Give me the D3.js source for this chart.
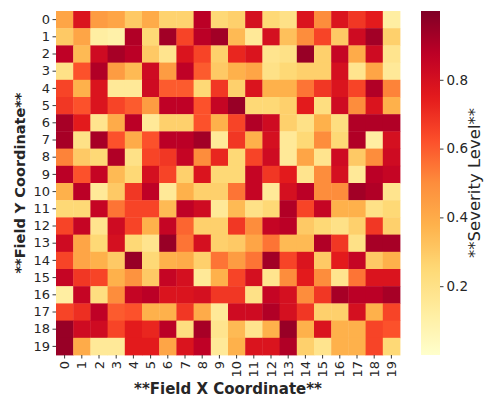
<!DOCTYPE html>
<html>
<head>
<meta charset="utf-8">
<script src="https://cdn.jsdelivr.net/npm/d3@7"></script>
<style>
  html, body { margin: 0; padding: 0; background: #fff; }
  svg { display: block; font-family: "DejaVu Sans", sans-serif; }
</style>
</head>
<body>
<div id="chart"></div>
<script>
// field coordinates
const xLabels = d3.range(20).map(String);
const yLabels = d3.range(20).map(String);

// severity per row (y) and column (x)
const severity = [
  [0.42,0.78,0.45,0.42,0.30,0.40,0.27,0.27,0.88,0.25,0.28,0.80,0.25,0.20,0.78,0.50,0.78,0.68,0.75,0.12],
  [0.30,0.42,0.12,0.10,0.90,0.25,0.93,0.65,0.88,0.93,0.35,0.15,0.80,0.33,0.50,0.65,0.30,0.82,0.93,0.28],
  [0.87,0.35,0.82,0.92,0.88,0.30,0.18,0.78,0.65,0.28,0.72,0.78,0.18,0.20,0.95,0.28,0.85,0.40,0.82,0.18],
  [0.20,0.62,0.90,0.45,0.35,0.82,0.45,0.87,0.60,0.30,0.38,0.42,0.20,0.25,0.28,0.28,0.80,0.18,0.42,0.15],
  [0.65,0.38,0.78,0.15,0.15,0.82,0.60,0.60,0.25,0.68,0.28,0.78,0.38,0.38,0.55,0.68,0.78,0.65,0.90,0.52],
  [0.68,0.62,0.78,0.65,0.60,0.45,0.87,0.87,0.62,0.85,0.95,0.25,0.25,0.28,0.75,0.22,0.82,0.50,0.78,0.38],
  [0.92,0.75,0.18,0.40,0.88,0.15,0.28,0.28,0.62,0.38,0.65,0.90,0.82,0.28,0.20,0.38,0.22,0.90,0.90,0.90],
  [0.92,0.20,0.92,0.62,0.40,0.62,0.88,0.88,0.93,0.15,0.68,0.38,0.80,0.15,0.25,0.50,0.25,0.90,0.12,0.80],
  [0.52,0.30,0.25,0.90,0.20,0.65,0.68,0.85,0.50,0.72,0.25,0.65,0.82,0.15,0.42,0.18,0.82,0.30,0.50,0.82],
  [0.88,0.62,0.85,0.35,0.25,0.80,0.65,0.28,0.78,0.25,0.25,0.85,0.68,0.75,0.18,0.50,0.80,0.15,0.88,0.85],
  [0.38,0.88,0.15,0.30,0.68,0.87,0.15,0.38,0.28,0.28,0.55,0.85,0.15,0.80,0.88,0.50,0.50,0.93,0.90,0.18],
  [0.25,0.25,0.85,0.55,0.65,0.65,0.35,0.87,0.82,0.15,0.35,0.20,0.25,0.90,0.65,0.85,0.38,0.38,0.20,0.25],
  [0.65,0.85,0.18,0.82,0.65,0.38,0.85,0.58,0.28,0.28,0.68,0.50,0.85,0.88,0.30,0.25,0.20,0.28,0.68,0.28],
  [0.82,0.42,0.25,0.80,0.25,0.18,0.95,0.55,0.80,0.28,0.30,0.42,0.55,0.35,0.35,0.90,0.68,0.20,0.92,0.92],
  [0.65,0.42,0.38,0.30,0.95,0.25,0.38,0.40,0.28,0.55,0.45,0.55,0.93,0.65,0.78,0.30,0.75,0.85,0.30,0.38],
  [0.85,0.68,0.65,0.38,0.48,0.30,0.85,0.80,0.15,0.38,0.65,0.80,0.18,0.50,0.75,0.50,0.18,0.55,0.78,0.78],
  [0.12,0.85,0.22,0.50,0.85,0.88,0.78,0.78,0.80,0.68,0.68,0.20,0.85,0.80,0.50,0.68,0.92,0.88,0.88,0.92],
  [0.65,0.70,0.87,0.60,0.62,0.38,0.38,0.68,0.40,0.15,0.82,0.82,0.90,0.80,0.68,0.28,0.28,0.80,0.38,0.65],
  [0.95,0.82,0.82,0.65,0.75,0.72,0.88,0.22,0.92,0.18,0.35,0.18,0.38,0.95,0.38,0.78,0.38,0.38,0.65,0.62],
  [0.95,0.40,0.15,0.15,0.75,0.75,0.42,0.78,0.87,0.15,0.38,0.78,0.78,0.90,0.28,0.18,0.38,0.38,0.65,0.25]
];

const colorbarTicks = [0.2, 0.4, 0.6, 0.8];
const colorRange = [0, 1];

// YlOrRd, as in matplotlib
const ylOrRd = ["#ffffcc","#ffeda0","#fed976","#feb24c","#fd8d3c","#fc4e2a","#e31a1c","#bd0026","#800026"];

const WIDTH = 486, HEIGHT = 397;
const heat = {left: 56, right: 400, top: 11, bottom: 355};
const bar = {left: 421, width: 19};
const TEXT = "#262626";

const svg = d3.select("#chart").append("svg")
  .attr("width", WIDTH)
  .attr("height", HEIGHT);

const x = d3.scaleBand().domain(xLabels).range([heat.left, heat.right]);
const y = d3.scaleBand().domain(yLabels).range([heat.top, heat.bottom]);

const color = d3.scaleLinear()
  .domain(d3.range(ylOrRd.length).map(i => colorRange[0] + i * (colorRange[1] - colorRange[0]) / (ylOrRd.length - 1)))
  .range(ylOrRd)
  .interpolate(d3.interpolateRgb)
  .clamp(true);

const cells = [];
severity.forEach((row, r) => row.forEach((v, c) => cells.push({x: xLabels[c], y: yLabels[r], v: v})));

svg.append("g")
  .selectAll("rect")
  .data(cells)
  .enter()
  .append("rect")
    .attr("x", d => x(d.x))
    .attr("y", d => y(d.y))
    .attr("width", x.bandwidth() + 0.4)
    .attr("height", y.bandwidth() + 0.4)
    .attr("fill", d => color(d.v));

// axes
const xAxis = svg.append("g")
  .attr("transform", `translate(0,${heat.bottom})`)
  .call(d3.axisBottom(x).tickSize(3.5).tickPadding(2));
xAxis.selectAll("text")
  .attr("transform", "rotate(-90)")
  .attr("x", -6)
  .attr("y", 0)
  .attr("dy", "0.35em")
  .style("text-anchor", "end");

const yAxis = svg.append("g")
  .attr("transform", `translate(${heat.left},0)`)
  .call(d3.axisLeft(y).tickSize(3.5).tickPadding(2.5));

[xAxis, yAxis].forEach(g => {
  g.select(".domain").remove();
  g.selectAll("line").attr("stroke", TEXT).attr("stroke-width", 0.9);
  g.selectAll("text").attr("fill", TEXT).style("font-size", "13px").style("font-family", "DejaVu Sans");
});

svg.append("text")
  .attr("x", (heat.left + heat.right) / 2)
  .attr("y", 394)
  .attr("text-anchor", "middle")
  .attr("fill", TEXT)
  .style("font-size", "15px")
  .style("font-weight", "bold")
  .text("**Field X Coordinate**");

svg.append("text")
  .attr("transform", `translate(24.5,${(heat.top + heat.bottom) / 2}) rotate(-90)`)
  .attr("text-anchor", "middle")
  .attr("fill", TEXT)
  .style("font-size", "14.5px")
  .style("font-weight", "bold")
  .text("**Field Y Coordinate**");

// colorbar
const cb = d3.scaleLinear().domain(colorRange).range([heat.bottom, heat.top]);

const grad = svg.append("defs").append("linearGradient")
  .attr("id", "cbGrad")
  .attr("x1", 0).attr("y1", 1).attr("x2", 0).attr("y2", 0);
grad.selectAll("stop")
  .data(d3.range(0, 1.0001, 0.02))
  .enter()
  .append("stop")
    .attr("offset", t => t)
    .attr("stop-color", t => color(colorRange[0] + t * (colorRange[1] - colorRange[0])));

svg.append("rect")
  .attr("x", bar.left)
  .attr("y", heat.top)
  .attr("width", bar.width)
  .attr("height", heat.bottom - heat.top)
  .attr("fill", "url(#cbGrad)");

const cbAxis = svg.append("g")
  .attr("transform", `translate(${bar.left + bar.width},0)`)
  .call(d3.axisRight(cb).tickValues(colorbarTicks).tickFormat(d3.format(".1f")).tickSize(3.5).tickPadding(3));
cbAxis.select(".domain").remove();
cbAxis.selectAll("line").attr("stroke", TEXT).attr("stroke-width", 0.9);
cbAxis.selectAll("text").attr("fill", TEXT).style("font-size", "13.5px").style("font-family", "DejaVu Sans");

svg.append("text")
  .attr("transform", `translate(480,${(heat.top + heat.bottom) / 2}) rotate(-90)`)
  .attr("text-anchor", "middle")
  .attr("fill", TEXT)
  .style("font-size", "16.5px")
  .text("**Severity Level**");
</script>
</body>
</html>
